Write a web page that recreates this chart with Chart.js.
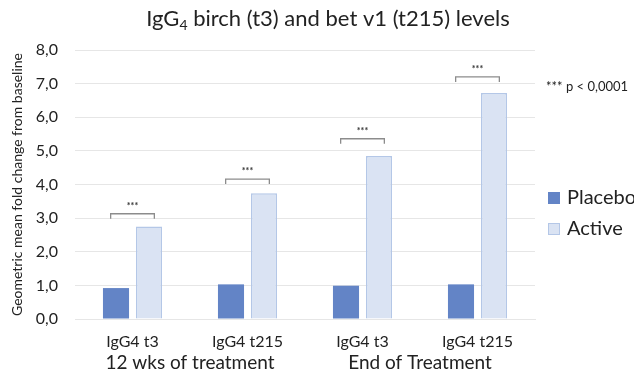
<!DOCTYPE html>
<html lang="en">
<head>
    <meta charset="UTF-8">
    <title>IgG4 birch and bet v1 levels</title>
    <script src="https://cdn.jsdelivr.net/npm/chart.js"></script>
    <style>
        html, body { margin: 0; padding: 0; background: #fff; }
        .chart-container { width: 634px; height: 371px; }
    </style>
</head>
<body>
    <div class="chart-container">
        <canvas id="graficoIgG4"></canvas>
    </div>

    <script>
        // datos
        const categories = ['IgG4 t3', 'IgG4 t215', 'IgG4 t3', 'IgG4 t215'];
        const groupLabels = ['12 wks of treatment', 'End of Treatment'];
        const placebo = [0.92, 1.03, 0.99, 1.03];
        const active = [2.75, 3.74, 4.85, 6.72];
        const bracketLevels = [3.13, 4.16, 5.36, 7.2];
        const seriesNames = ['Placebo', 'Active'];
        const pNote = '*** p < 0,0001';

        const FONT = 'Lato, "Open Sans", sans-serif';

        // titulo con subindice, marcas de significancia, grupos y leyenda
        const extras = {
            id: 'extras',
            afterDraw(chart) {
                const ctx = chart.ctx;
                const x = chart.scales.x;
                const y = chart.scales.y;
                const area = chart.chartArea;
                ctx.save();

                // titulo
                ctx.fillStyle = '#222';
                ctx.textBaseline = 'middle';
                const big = '22px ' + FONT, small = '14px ' + FONT;
                const parts = [['IgG', big, 0], ['4', small, 6], [' birch (t3) and bet v1 (t215) levels', big, 0]];
                let total = 0;
                parts.forEach(p => { ctx.font = p[1]; total += ctx.measureText(p[0]).width; });
                let tx = (chart.width - total) / 2 + 11;
                parts.forEach(p => {
                    ctx.font = p[1];
                    ctx.textAlign = 'left';
                    ctx.fillText(p[0], tx, 19 + p[2]);
                    tx += ctx.measureText(p[0]).width;
                });

                // corchetes ***
                const catW = (x.getPixelForValue(1) - x.getPixelForValue(0));
                ctx.strokeStyle = '#8c8c8c';
                ctx.lineWidth = 1.3;
                bracketLevels.forEach((lv, i) => {
                    const cx = x.getPixelForValue(i);
                    const by = y.getPixelForValue(lv);
                    const half = catW * 0.19;
                    ctx.beginPath();
                    ctx.moveTo(cx - half, by + 5);
                    ctx.lineTo(cx - half, by);
                    ctx.lineTo(cx + half, by);
                    ctx.lineTo(cx + half, by + 5);
                    ctx.stroke();
                    ctx.fillStyle = '#333';
                    ctx.font = 'bold 9px ' + FONT;
                    ctx.textAlign = 'center';
                    ctx.fillText('***', cx, by - 8);
                });

                // etiquetas de grupo
                ctx.fillStyle = '#222';
                ctx.font = '19px ' + FONT;
                ctx.textAlign = 'center';
                groupLabels.forEach((g, i) => {
                    const cx = (x.getPixelForValue(i * 2) + x.getPixelForValue(i * 2 + 1)) / 2;
                    ctx.fillText(g, cx, 363);
                });

                // nota p
                ctx.font = '13px ' + FONT;
                ctx.textAlign = 'left';
                ctx.fillStyle = '#222';
                ctx.fillText(pNote, area.right + 11, 87);

                // leyenda
                const colors = [['#6384c6', '#6384c6'], ['#dae3f3', '#b4c7e7']];
                const ly = [198, 229];
                ctx.font = '20px ' + FONT;
                seriesNames.forEach((n, i) => {
                    ctx.fillStyle = colors[i][0];
                    ctx.fillRect(548, ly[i] - 6, 12, 12);
                    ctx.strokeStyle = colors[i][1];
                    ctx.lineWidth = 1;
                    ctx.strokeRect(548.5, ly[i] - 5.5, 11, 11);
                    ctx.fillStyle = '#222';
                    ctx.fillText(n, 567, ly[i]);
                });
                ctx.restore();
            }
        };

        new Chart(document.getElementById('graficoIgG4'), {
            type: 'bar',
            data: {
                labels: categories,
                datasets: [
                    {
                        label: seriesNames[0],
                        data: placebo,
                        backgroundColor: '#6384c6',
                        borderWidth: 0,
                        categoryPercentage: 0.574,
                        barPercentage: 0.79,
                    },
                    {
                        label: seriesNames[1],
                        data: active,
                        backgroundColor: '#dae3f3',
                        borderColor: '#b4c7e7',
                        borderWidth: 1.5,
                        categoryPercentage: 0.574,
                        barPercentage: 0.79,
                    },
                ]
            },
            options: {
                responsive: true,
                maintainAspectRatio: false,
                animation: false,
                layout: {
                    padding: { top: 50, right: 99, left: 0, bottom: 0 }
                },
                plugins: {
                    legend: { display: false },
                    title: { display: false },
                    tooltip: { enabled: false },
                },
                scales: {
                    x: {
                        grid: { display: false, drawTicks: false },
                        border: { display: true, color: '#e6e6e6' },
                        ticks: {
                            color: '#222',
                            font: { family: FONT, size: 16 },
                            padding: 13,
                        },
                        afterFit: s => { s.height = 52; },
                    },
                    y: {
                        min: 0,
                        max: 8,
                        grid: { color: '#e6e6e6', drawTicks: false },
                        border: { display: false },
                        ticks: {
                            stepSize: 1,
                            color: '#222',
                            font: { family: FONT, size: 16 },
                            padding: 17,
                            callback: v => v.toFixed(1).replace('.', ','),
                        },
                        title: {
                            display: true,
                            text: 'Geometric mean fold change from baseline',
                            color: '#222',
                            font: { family: FONT, size: 14 },
                            padding: { top: 9, bottom: 0 },
                        },
                        afterFit: s => { s.width = 75; },
                    }
                }
            },
            plugins: [extras]
        });
    </script>
</body>
</html>
